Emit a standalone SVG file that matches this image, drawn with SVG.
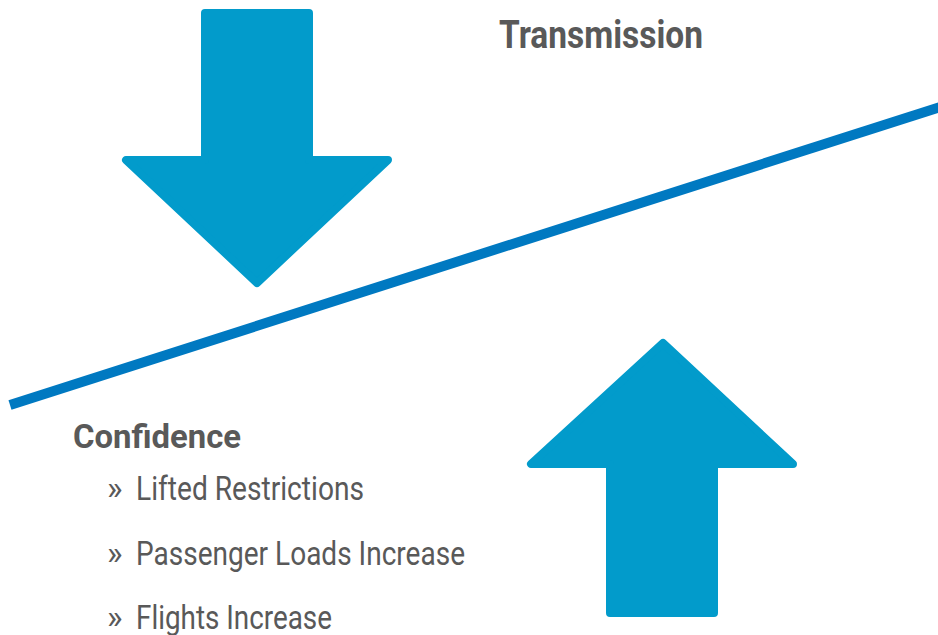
<svg xmlns="http://www.w3.org/2000/svg" width="938" height="635" viewBox="0 0 938 635">
<style>
.arrow{fill:#029bcb;stroke:#029bcb;stroke-width:8;stroke-linejoin:round}
.title{font-family:Roboto,"Liberation Sans",sans-serif;font-weight:bold;fill:#595959}
.item{font-family:Roboto,"Liberation Sans",sans-serif;fill:#595959;font-size:33px}
</style>
<rect width="938" height="635" fill="#ffffff"/>
<g id="connectors">
<line x1="10" y1="405" x2="940" y2="107" stroke="#0079c1" stroke-width="10"/>
</g>
<g id="down-arrow">
<path class="arrow" d="M205,13 H309 V160 H388 L257,283 L126,160 H205 Z"/>
</g>
<g id="up-arrow">
<path class="arrow" d="M610,613 H714 V464 H793 L663,343 L531,464 H610 Z"/>
</g>
<g id="transmission">
<text class="title" x="499" y="48" font-size="39" textLength="204" lengthAdjust="spacingAndGlyphs">Transmission</text>
</g>
<g id="confidence">
<text class="title" x="73" y="448" font-size="33" textLength="168" lengthAdjust="spacingAndGlyphs">Confidence</text>
<text class="item" x="107" y="500">»</text>
<text class="item" x="136" y="500" textLength="228" lengthAdjust="spacingAndGlyphs">Lifted Restrictions</text>
<text class="item" x="107" y="565">»</text>
<text class="item" x="136" y="565" textLength="329" lengthAdjust="spacingAndGlyphs">Passenger Loads Increase</text>
<text class="item" x="107" y="629">»</text>
<text class="item" x="136" y="629" textLength="196" lengthAdjust="spacingAndGlyphs">Flights Increase</text>
</g>
</svg>
